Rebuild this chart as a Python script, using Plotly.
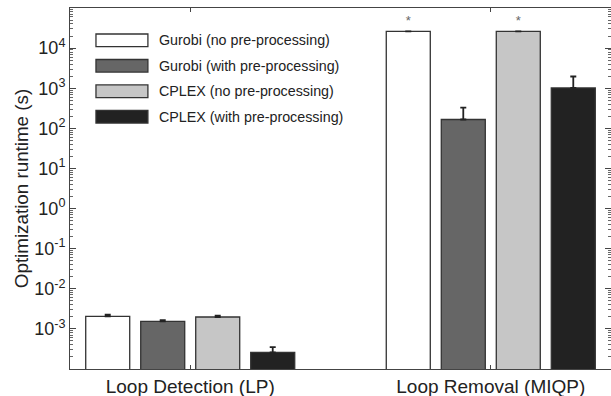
import plotly.graph_objects as go

categories = ["Loop Detection (LP)", "Loop Removal (MIQP)"]
series_names = ["Gurobi (no pre-processing)", "Gurobi (with pre-processing)",
                "CPLEX (no pre-processing)", "CPLEX (with pre-processing)"]
# mean runtimes (s)
gurobi_no = [2.05e-3, 2.6e4]
gurobi_pre = [1.54e-3, 166]
cplex_no = [1.98e-3, 2.6e4]
cplex_pre = [2.6e-4, 1020]
# upper end of error bars (s)
gurobi_no_err_top = [2.27e-3, 2.6e4]
gurobi_pre_err_top = [1.65e-3, 330]
cplex_no_err_top = [2.13e-3, 2.6e4]
cplex_pre_err_top = [3.5e-4, 1960]
# asterisk marks (time limit reached)
gurobi_no_mark = [None, "*"]
gurobi_pre_mark = [None, None]
cplex_no_mark = [None, "*"]
cplex_pre_mark = [None, None]

ytick_vals = [1e-3, 1e-2, 1e-1, 1e0, 1e1, 1e2, 1e3, 1e4]
ytick_text = ["10<sup>-3</sup>", "10<sup>-2</sup>", "10<sup>-1</sup>", "10<sup>0</sup>",
              "10<sup>1</sup>", "10<sup>2</sup>", "10<sup>3</sup>", "10<sup>4</sup>"]

colors = ["#ffffff", "#666666", "#c6c6c6", "#222222"]
edge = "#333333"
FONT = "Liberation Sans"

values = [gurobi_no, gurobi_pre, cplex_no, cplex_pre]
tops = [gurobi_no_err_top, gurobi_pre_err_top, cplex_no_err_top, cplex_pre_err_top]
marks = [gurobi_no_mark, gurobi_pre_mark, cplex_no_mark, cplex_pre_mark]
xpos = [1, 2]

fig = go.Figure()
for name, v, t, m, c in zip(series_names, values, tops, marks, colors):
    has_mark = any(mm for mm in m)
    fig.add_trace(go.Bar(
        x=xpos, y=v, name=name,
        marker=dict(color=c, line=dict(color=edge, width=1.3)),
        error_y=dict(type="data", symmetric=False,
                     array=[tt - vv for tt, vv in zip(t, v)],
                     arrayminus=[0 for _ in v],
                     color="#222222", thickness=1.8, width=3),
        text=m if has_mark else None,
        textposition="outside" if has_mark else "none",
        cliponaxis=False,
        textfont=dict(size=13, color="#666666", family=FONT),
        showlegend=False,
    ))

# custom legend (wide swatches like the original)
shapes = []
annotations = []
x0, x1, xt = 0.048, 0.144, 0.160
ytop, dy, h = 0.9105, 0.0706, 0.0175
for i, (name, c) in enumerate(zip(series_names, colors)):
    yc = ytop - i * dy
    shapes.append(dict(type="rect", xref="paper", yref="paper",
                       x0=x0, x1=x1, y0=yc - h, y1=yc + h,
                       fillcolor=c, line=dict(color=edge, width=1.3)))
    annotations.append(dict(xref="paper", yref="paper", x=xt, y=yc,
                            text=name, showarrow=False, xanchor="left", yanchor="middle",
                            font=dict(size=14.3, color="#222222", family=FONT)))

fig.update_layout(
    width=611, height=396,
    margin=dict(l=70, r=0, t=8, b=27),
    paper_bgcolor="white", plot_bgcolor="white",
    barmode="group", bargap=0.268, bargroupgap=0.2,
    font=dict(family=FONT, color="#222222"),
    shapes=shapes, annotations=annotations,
    showlegend=False,
)
fig.update_xaxes(
    range=[0.6, 2.4], tickvals=xpos, ticktext=categories,
    ticks="inside", ticklen=4, tickcolor="#444444",
    showline=True, linecolor="#444444", linewidth=1, mirror="ticks",
    showgrid=False, zeroline=False,
    tickfont=dict(size=19, color="#222222", family=FONT),
)
fig.update_yaxes(
    type="log", range=[-4, 5],
    tickvals=ytick_vals, ticktext=ytick_text,
    ticks="inside", ticklen=6, tickcolor="#444444",
    minor=dict(ticks="inside", ticklen=3, tickcolor="#666666", dtick="D1", showgrid=False),
    showline=True, linecolor="#444444", linewidth=1, mirror="ticks",
    showgrid=False, zeroline=False,
    tickfont=dict(size=18, color="#222222", family=FONT),
    title=dict(text="Optimization runtime (s)", font=dict(size=18.8, color="#222222", family=FONT), standoff=0),
)

fig.write_html("out.html")
